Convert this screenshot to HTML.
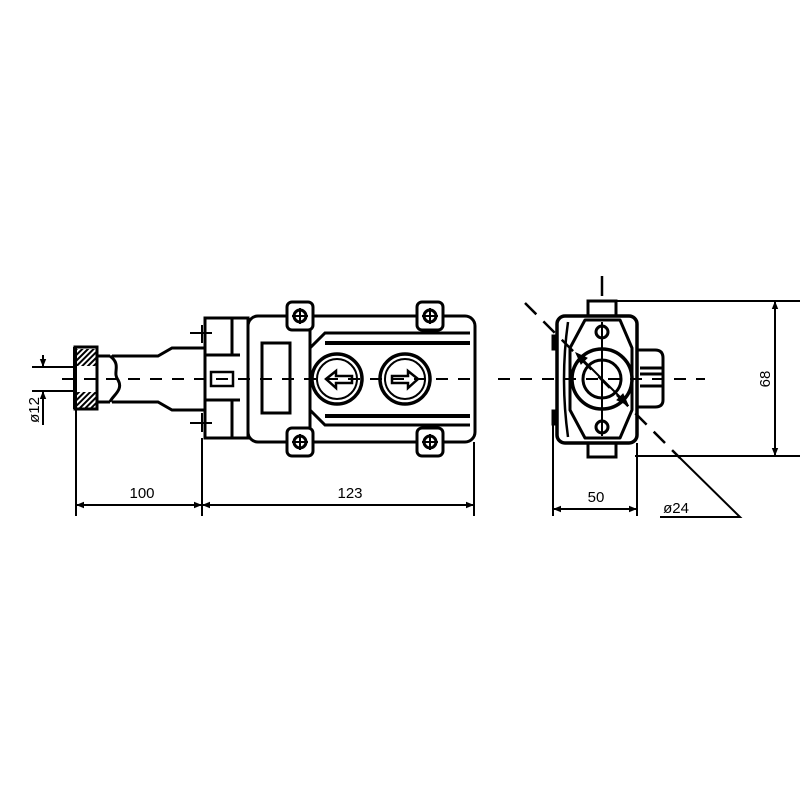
<!DOCTYPE html>
<html><head><style>body{margin:0;background:#fff}svg{display:block}</style></head><body>
<svg width="800" height="800" viewBox="0 0 800 800" xmlns="http://www.w3.org/2000/svg" font-family="Liberation Sans, DejaVu Sans, sans-serif">
<defs>
<marker id="a" viewBox="0 0 10 10" refX="10" refY="5" markerWidth="10" markerHeight="8" orient="auto-start-reverse" markerUnits="userSpaceOnUse"><path d="M0,1 L10,5 L0,9z" fill="#000"/></marker>
<pattern id="h" width="4" height="4" patternUnits="userSpaceOnUse" patternTransform="rotate(45)"><rect width="2" height="4" fill="#000"/></pattern>
</defs>
<g fill="none" stroke="#000">
<!-- nut -->
<rect x="75" y="347" width="22" height="62" fill="#fff" stroke-width="3"/>
<rect x="77" y="349" width="19" height="17" fill="url(#h)" stroke="none"/>
<rect x="77" y="392" width="19" height="16" fill="url(#h)" stroke="none"/>
<path d="M75,347 L75,409" stroke-width="4"/>
<path d="M97,356 L110,356 M97,402 L110,402" stroke-width="3"/>
<path d="M110,356 C122,365 112,372 118,380 C124,390 112,396 110,402" stroke-width="3"/>
<!-- cable -->
<path d="M112,356 L158,356 L172,348 L205,348 M112,402 L158,402 L172,410 L205,410" stroke-width="3"/>
<!-- block -->
<rect x="205" y="318" width="43" height="120" stroke-width="3"/>
<path d="M205,355 L240,355 M205,400 L240,400 M232,318 L232,355 M232,400 L232,438" stroke-width="3"/>
<rect x="211" y="372" width="22" height="14" stroke-width="2.5"/>
<path d="M190,333 L212,333 M190,423 L212,423 M202,325 L202,343 M202,413 L202,432" stroke-width="2"/>
<!-- main body -->
<rect x="248" y="316" width="227" height="126" rx="10" stroke-width="3"/>
<path d="M310,316 L310,442" stroke-width="3"/>
<path d="M470,333 L325,333 L310,348 L310,410 L325,425 L470,425" stroke-width="3"/>
<path d="M325,343 L470,343 M325,416 L470,416" stroke-width="4"/>
<rect x="262" y="343" width="28" height="70" stroke-width="3"/>
<!-- ears -->
<g stroke-width="3" fill="#fff">
<rect x="287" y="302" width="26" height="28" rx="5"/><rect x="417" y="302" width="26" height="28" rx="5"/>
<rect x="287" y="428" width="26" height="28" rx="5"/><rect x="417" y="428" width="26" height="28" rx="5"/>
<circle cx="300" cy="316" r="6"/><circle cx="430" cy="316" r="6"/><circle cx="300" cy="442" r="6"/><circle cx="430" cy="442" r="6"/>
</g>
<path d="M292,316h16M300,308v16M422,316h16M430,308v16M292,442h16M300,434v16M422,442h16M430,434v16" stroke-width="2"/>
<!-- buttons -->
<circle cx="337" cy="379" r="25" stroke-width="3.5" fill="#fff"/><circle cx="337" cy="379" r="20" stroke-width="2"/>
<circle cx="405" cy="379" r="25" stroke-width="3.5" fill="#fff"/><circle cx="405" cy="379" r="20" stroke-width="2"/>
<path d="M326,379 L336,371 L336,376 L352,376 L352,383 L336,383 L336,388 Z" stroke-width="2.5"/>
<path d="M418,379 L408,371 L408,376 L392,376 L392,383 L408,383 L408,388 Z" stroke-width="2.5"/>
<!-- centerline left -->
<path d="M62,379 L470,379" stroke-width="2" stroke-dasharray="12,10"/>
<!-- right view -->
<rect x="588" y="301" width="28" height="16" stroke-width="3"/>
<rect x="588" y="441" width="28" height="16" stroke-width="3"/>
<path d="M637,350 L655,350 Q663,350 663,358 L663,400 Q663,407 655,407 L637,407 M640,368h22M640,374h22M640,386h22" stroke-width="3"/>
<rect x="557" y="316" width="80" height="127" rx="8" stroke-width="3.5" fill="#fff"/>
<path d="M568,322 Q560,379 568,437" stroke-width="2.5"/>
<path d="M585,320 L620,320 L632,348 L632,410 L620,438 L585,438 L570,410 L570,348 Z" stroke-width="3" stroke-linejoin="round"/>
<rect x="552" y="335" width="5" height="15" fill="#000"/><rect x="552" y="410" width="5" height="15" fill="#000"/>
<circle cx="602" cy="379" r="30" stroke-width="3.5"/>
<circle cx="602" cy="379" r="19" stroke-width="3"/>
<circle cx="602" cy="332" r="6" stroke-width="3" fill="#fff"/>
<circle cx="602" cy="427" r="6" stroke-width="3" fill="#fff"/>
<path d="M602,322 L602,436" stroke-width="2"/>
<path d="M602,276 L602,296" stroke-width="2.5"/>
<path d="M498,379 L705,379" stroke-width="2" stroke-dasharray="12,10"/>
<path d="M525,303 L680,458" stroke-width="2.5" stroke-dasharray="16,10"/>
<path d="M577,354 L627,404" stroke-width="2"/>
<path d="M576,353 L587,358 L581,364 Z M628,405 L617,400 L623,394 Z" fill="#000" stroke-width="1"/>
<path d="M678,456 L740,517 L660,517" stroke-width="2"/>
<!-- dims -->
<g stroke-width="2">
<path d="M616,301 L800,301 M635,456 L800,456"/>
<path d="M775,301 L775,456" marker-start="url(#a)" marker-end="url(#a)"/>
<path d="M553,420 L553,516 M637,443 L637,516"/>
<path d="M553,509 L637,509" marker-start="url(#a)" marker-end="url(#a)"/>
<path d="M76,410 L76,516 M202,438 L202,516 M474,442 L474,516"/>
<path d="M76,505 L202,505" marker-start="url(#a)" marker-end="url(#a)"/>
<path d="M202,505 L474,505" marker-start="url(#a)" marker-end="url(#a)"/>
<path d="M32,367 L75,367 M32,391 L75,391"/>
<path d="M43,355 L43,367" marker-end="url(#a)"/>
<path d="M43,425 L43,391" marker-end="url(#a)"/>
</g>
</g>
<g font-size="15" fill="#000" text-anchor="middle">
<text x="142" y="498">100</text>
<text x="350" y="498">123</text>
<text x="596" y="502">50</text>
<text x="676" y="513">ø24</text>
<text transform="translate(770,379) rotate(-90)">68</text>
<text transform="translate(39,410) rotate(-90)">ø12</text>
</g>
</svg>
</body></html>
